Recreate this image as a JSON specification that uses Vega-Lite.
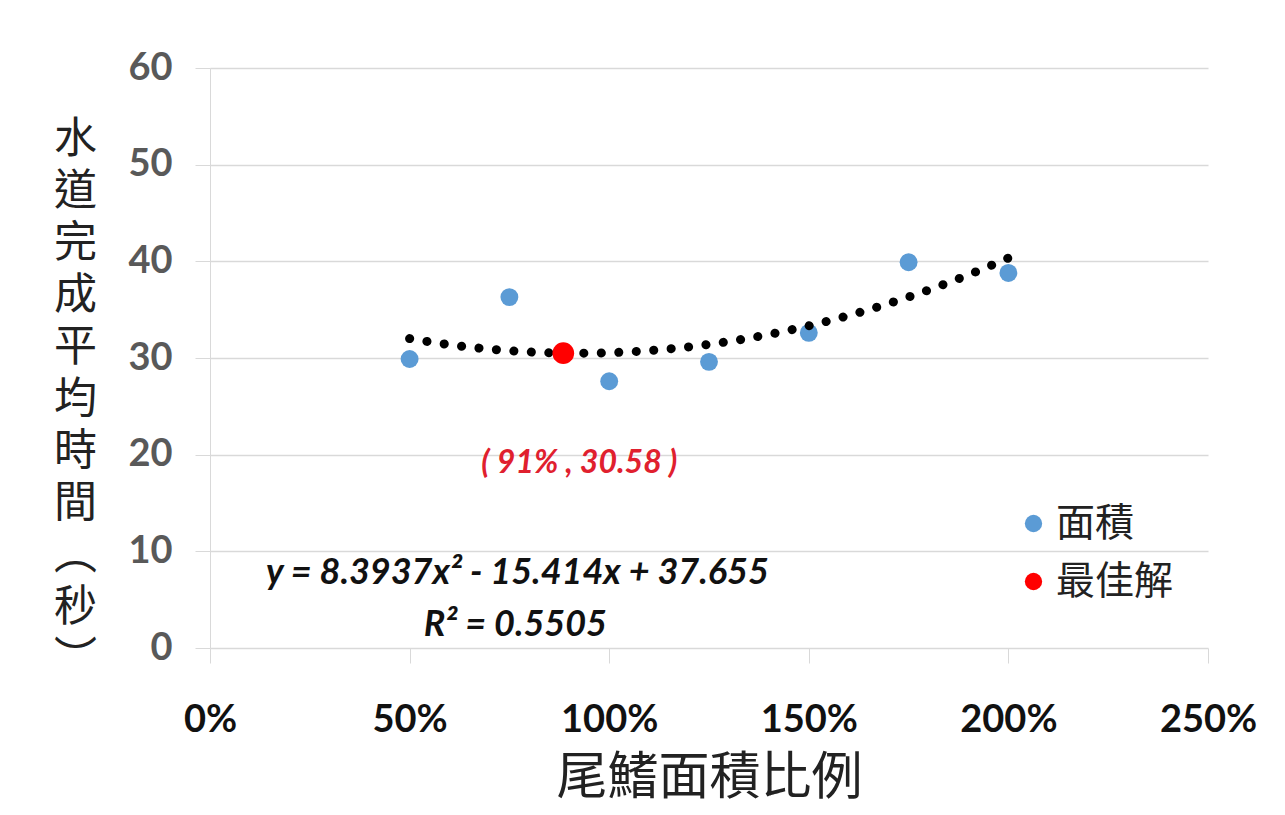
{
  "$schema": "https://vega.github.io/schema/vega-lite/v6.json",
  "autosize": {"type": "none"},
  "width": 998,
  "height": 580,
  "padding": {"left": 210, "top": 68, "right": 77, "bottom": 167},
  "background": "#ffffff",
  "config": {
    "view": {"stroke": null},
    "font": "Lato"
  },
  "datasets": {
    "pts": [
      {"ratio": 0.5, "time": 29.9, "series": "面積"},
      {"ratio": 0.75, "time": 36.3, "series": "面積"},
      {"ratio": 1.0, "time": 27.6, "series": "面積"},
      {"ratio": 1.25, "time": 29.6, "series": "面積"},
      {"ratio": 1.5, "time": 32.6, "series": "面積"},
      {"ratio": 1.75, "time": 39.9, "series": "面積"},
      {"ratio": 2.0, "time": 38.8, "series": "面積"},
      {"ratio": 0.885, "time": 30.5, "series": "最佳解"}
    ],
    "notes": [
      {"ratio": 0.925, "time": 19.1, "label": "( 91% , 30.58 )", "kind": "best"},
      {"ratio": 0.77, "time": 7.8, "label": "y = 8.3937x² - 15.414x + 37.655", "kind": "eq"},
      {"ratio": 0.765, "time": 2.4, "label": "R² = 0.5505", "kind": "eq"}
    ]
  },
  "encoding": {
    "x": {
      "field": "ratio", "type": "quantitative",
      "scale": {"domain": [0, 2.5], "nice": false, "zero": false},
      "axis": {
        "values": [0, 0.5, 1, 1.5, 2, 2.5],
        "format": ".0%",
        "grid": false,
        "domain": false,
        "labelFlush": false,
        "labelOverlap": false,
        "ticks": true, "tickSize": 15, "tickColor": "#d9d9d9",
        "labelFont": "Lato", "labelFontSize": 38, "labelFontWeight": "bold", "labelColor": "#111111",
        "labelPadding": 38,
        "title": "尾鰭面積比例",
        "titleFont": "Noto Sans CJK TC", "titleFontSize": 51, "titleFontWeight": "normal", "titleColor": "#222222",
        "titlePadding": 14
      }
    },
    "y": {
      "field": "time", "type": "quantitative",
      "scale": {"domain": [0, 60], "nice": false},
      "axis": {
        "values": [0, 10, 20, 30, 40, 50, 60],
        "grid": true, "gridColor": "#d9d9d9", "gridWidth": 1.5,
        "domain": true, "domainColor": "#d9d9d9",
        "ticks": true, "tickSize": 15, "tickColor": "#d9d9d9",
        "labelFont": "Lato", "labelFontSize": 38, "labelFontWeight": "bold", "labelColor": "#595959",
        "labelPadding": 23,
        "title": ["水", "道", "完", "成", "平", "均", "時", "間", "︵", "秒", "︶"],
        "titleFont": "Noto Sans CJK TC", "titleFontSize": 43, "titleFontWeight": "normal", "titleColor": "#222222",
        "titleAngle": 0, "titleAlign": "center", "titleBaseline": "top",
        "titleLineHeight": 52,
        "titleX": -135, "titleY": 50
      }
    }
  },
  "layer": [
    {
      "data": {"name": "pts"},
      "transform": [{"filter": "datum.series === '面積'"}],
      "mark": {"type": "point", "filled": true, "shape": "circle", "opacity": 1, "size": 320},
      "encoding": {
        "color": {
          "field": "series", "type": "nominal",
          "scale": {"domain": ["面積", "最佳解"], "range": ["#5B9BD5", "#FF0000"]},
          "legend": {
            "title": null, "orient": "none", "legendX": 804, "legendY": 436,
            "symbolType": "circle", "symbolSize": 300, "symbolStrokeWidth": 0,
            "labelFont": "Noto Sans CJK TC", "labelFontSize": 39, "labelColor": "#222222",
            "labelOffset": 3, "rowPadding": 18
          }
        }
      }
    },
    {
      "data": {"name": "pts"},
      "transform": [
        {"filter": "datum.series === '面積'"},
        {"regression": "time", "on": "ratio", "method": "poly", "order": 2}
      ],
      "mark": {"type": "line", "color": "#000000", "strokeWidth": 9, "strokeCap": "round", "strokeDash": [0.1, 17.4]},
      "encoding": {}
    },
    {
      "data": {"name": "pts"},
      "transform": [{"filter": "datum.series === '最佳解'"}],
      "mark": {"type": "point", "filled": true, "shape": "circle", "opacity": 1, "size": 470},
      "encoding": {
        "color": {"field": "series", "type": "nominal"}
      }
    },
    {
      "data": {"name": "notes"},
      "transform": [{"filter": "datum.kind === 'best'"}],
      "mark": {"type": "text", "font": "Lato", "fontSize": 32, "fontWeight": "bold", "fontStyle": "italic", "color": "#E0202E", "align": "center", "baseline": "middle"},
      "encoding": {"text": {"field": "label"}}
    },
    {
      "data": {"name": "notes"},
      "transform": [{"filter": "datum.kind === 'eq'"}],
      "mark": {"type": "text", "font": "Lato", "fontSize": 36, "fontWeight": "bold", "fontStyle": "italic", "color": "#111111", "align": "center", "baseline": "middle"},
      "encoding": {"text": {"field": "label"}}
    }
  ]
}
